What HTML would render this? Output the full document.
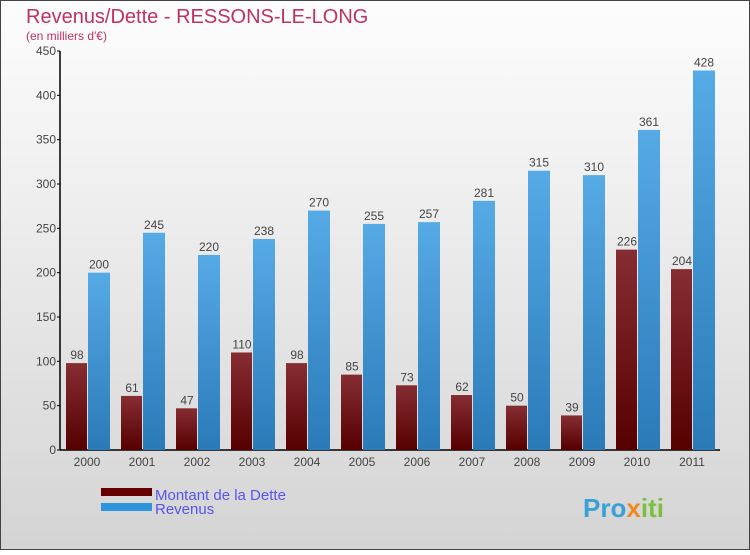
<!DOCTYPE html>
<html><head><meta charset="utf-8"><style>
body{margin:0;width:750px;height:550px;overflow:hidden;font-family:"Liberation Sans",sans-serif}
</style></head><body>
<svg width="750" height="550" xmlns="http://www.w3.org/2000/svg">
<defs>
<linearGradient id="bg" x1="0" y1="0" x2="0" y2="1"><stop offset="0" stop-color="#fdfdfd"/><stop offset="1" stop-color="#d4d4d4"/></linearGradient>
<linearGradient id="gd" x1="0" y1="0" x2="0" y2="1"><stop offset="0" stop-color="#862d33"/><stop offset="1" stop-color="#560000"/></linearGradient>
<linearGradient id="gr" x1="0" y1="0" x2="0" y2="1"><stop offset="0" stop-color="#56aae6"/><stop offset="1" stop-color="#2a7ab8"/></linearGradient>
</defs>
<rect x="0.5" y="0.5" width="749" height="549" fill="url(#bg)" stroke="#444"/>
<text x="26" y="23" font-size="20" fill="#c0325e">Revenus/Dette - RESSONS-LE-LONG</text>
<text x="26" y="40" font-size="12" fill="#c0325e">(en milliers d'€)</text>
<g id="plot"></g>
<rect x="101" y="488" width="51" height="8" fill="#660000"/>
<text x="155" y="500" font-size="15" fill="#5555ee">Montant de la Dette</text>
<rect x="101" y="503" width="51" height="8" fill="#2e95dd"/>
<text x="155" y="514" font-size="15" fill="#5555ee">Revenus</text>
<text x="583" y="517" font-size="26" font-weight="bold" fill="#3aa0d8">Pro<tspan fill="#f08a20">x</tspan><tspan fill="#7cc040">iti</tspan></text>
</svg>
<script>
const years=["2000","2001","2002","2003","2004","2005","2006","2007","2008","2009","2010","2011"];
const dette=[98,61,47,110,98,85,73,62,50,39,226,204];
const revenus=[200,245,220,238,270,255,257,281,315,310,361,428];
const ticks=[0,50,100,150,200,250,300,350,400,450];
const NS="http://www.w3.org/2000/svg";
const g=document.getElementById('plot');
const y=v=>450-v*(399/450);
const xc=i=>87+i*55;
function mk(t,a,txt){const e=document.createElementNS(NS,t);for(const k in a)e.setAttribute(k,a[k]);if(txt!==undefined)e.textContent=txt;g.appendChild(e);return e;}
let e=mk('line',{x1:60,y1:450,x2:60,y2:y(450),stroke:'#000','stroke-width':1.5});


e=mk('line',{x1:60,y1:450,x2:720,y2:450,stroke:'#000','stroke-width':1.5});


ticks.forEach(t=>{
 let l=mk('line',{x1:57,x2:60,y1:y(t),y2:y(t),stroke:'#000'});
 
 
 let tx=mk('text',{x:56,y:y(t)+4,'font-size':12,fill:'#444','text-anchor':'end'},t);
 
 
});
years.forEach((yr,i)=>{
 const c=xc(i);
 let tx=mk('text',{x:c,y:466,'font-size':12,fill:'#444','text-anchor':'middle'},yr);
 
 
 let b=mk('rect',{x:c-21,y:y(dette[i]),width:21,height:450-y(dette[i]),fill:'url(#gd)'});
 
 
 let r=mk('rect',{x:c+1,y:y(revenus[i]),width:22,height:450-y(revenus[i]),fill:'url(#gr)'});
 
 
 let l1=mk('text',{x:c-10,y:y(dette[i])-4,'font-size':12,fill:'#444','text-anchor':'middle'},dette[i]);
 
 
 let l2=mk('text',{x:c+12,y:y(revenus[i])-4,'font-size':12,fill:'#444','text-anchor':'middle'},revenus[i]);
 
 
});
</script>
</body></html>
